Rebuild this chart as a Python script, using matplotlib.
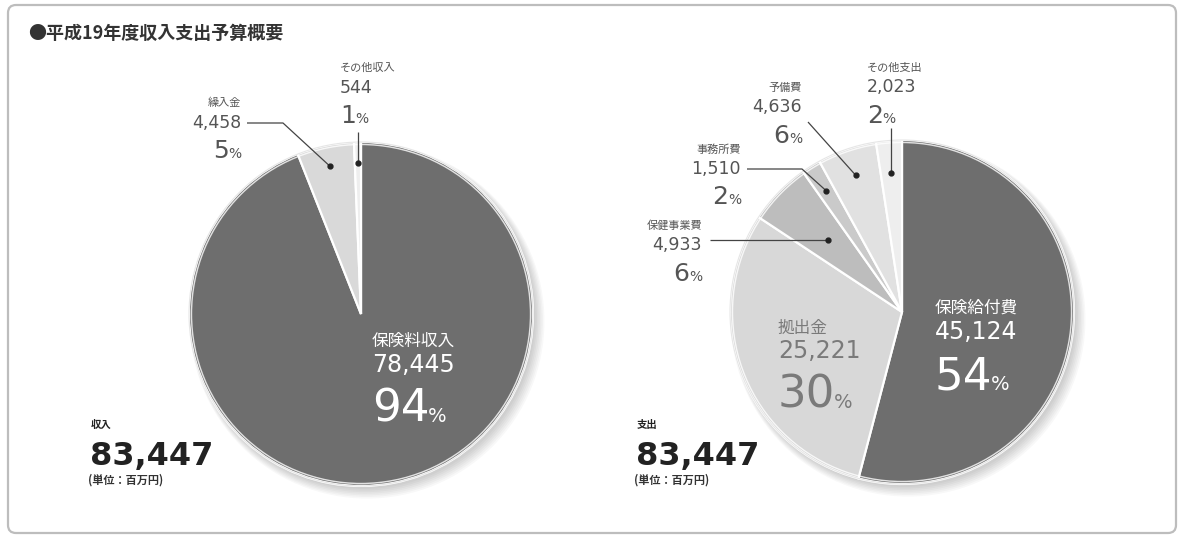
import matplotlib
matplotlib.use("Agg")
import matplotlib.pyplot as plt
import numpy as np
from matplotlib.patches import Circle, FancyBboxPatch

plt.rcParams['font.family'] = ['Noto Sans CJK JP', 'DejaVu Sans']
NUM_FONT = ['DejaVu Sans']

# ---------------- data ----------------
title = '●平成19年度収入支出予算概要'
income_title = '収入'
expense_title = '支出'
income_total = '83,447'
expense_total = '83,447'
unit_label = '(単位：百万円)'

income_labels = ['保険料収入', '繰入金', 'その他収入']
income_values = [78445, 4458, 544]
income_pct = [94, 5, 1]

expense_labels = ['保険給付費', '拠出金', '保健事業費', '事務所費', '予備費', 'その他支出']
expense_values = [45124, 25221, 4933, 1510, 4636, 2023]
expense_pct = [54, 30, 6, 2, 6, 2]

# ---------------- style ----------------
income_colors = ['#6e6e6e', '#d9d9d9', '#eeeeee']
expense_colors = ['#6e6e6e', '#d8d8d8', '#bdbdbd', '#cacaca', '#e1e1e1', '#eeeeee']

W, H = 1178, 535
fig = plt.figure(figsize=(W / 100, H / 100), dpi=100)
ax = fig.add_axes([0, 0, 1, 1])


def Y(y):
    return H - y


frame = FancyBboxPatch((8, Y(533)), 1168, 528, boxstyle='round,pad=0,rounding_size=8',
                       fc='white', ec='#bdbdbd', lw=1.6, zorder=0)
ax.add_patch(frame)

ax.text(28, Y(33), title, fontsize=13, fontweight='bold', color='#333333',
        ha='left', va='center')


def draw_pie(cx, cy, r, values, colors):
    for k in range(7):
        ax.add_patch(Circle((cx + 2.5 + k * 0.6, Y(cy) - 3 - k * 0.7), r + k * 0.9,
                            fc='black', ec='none', alpha=0.028, zorder=1))
    wedges, _ = ax.pie(values, colors=colors, startangle=90, counterclock=False,
                       center=(cx, Y(cy)), radius=r, frame=True,
                       wedgeprops=dict(ec='white', lw=1.6))
    for w in wedges:
        w.set_zorder(2)
    ax.add_patch(Circle((cx, Y(cy)), r - 2.5, fc='none', ec='white', lw=1.0, alpha=0.8, zorder=3))
    ax.add_patch(Circle((cx, Y(cy)), r, fc='none', ec='#e6e6e6', lw=0.8, zorder=3))
    return wedges


def wedge_point(cx, cy, r, values, idx, frac):
    total = float(sum(values))
    cum = sum(values[:idx]) + values[idx] / 2.0
    ang = np.deg2rad(90 - 360 * cum / total)
    return cx + frac * r * np.cos(ang), Y(cy) + frac * r * np.sin(ang)


L_CX, L_CY, R_CX, R_CY, RAD = 361, 314, 902, 312, 172
draw_pie(L_CX, L_CY, RAD, income_values, income_colors)
draw_pie(R_CX, R_CY, RAD, expense_values, expense_colors)
ax.set_xlim(0, W)
ax.set_ylim(0, H)
ax.set_aspect('equal')
ax.axis('off')

fig.canvas.draw()
renderer = fig.canvas.get_renderer()


def pct_text(x, y_base, num, nsize, psize, color, ha='left'):
    gap = -0.04 * nsize
    if ha == 'left':
        t = ax.text(x, Y(y_base), str(num), fontsize=nsize, color=color, family=NUM_FONT,
                    ha='left', va='baseline', zorder=5)
        bb = t.get_window_extent(renderer)
        ax.text(bb.x1 + gap, Y(y_base), '%', fontsize=psize, color=color, family=NUM_FONT,
                ha='left', va='baseline', zorder=5)
    else:
        p = ax.text(x, Y(y_base), '%', fontsize=psize, color=color, family=NUM_FONT,
                    ha='right', va='baseline', zorder=5)
        bb = p.get_window_extent(renderer)
        ax.text(bb.x0 - gap, Y(y_base), str(num), fontsize=nsize, color=color, family=NUM_FONT,
                ha='right', va='baseline', zorder=5)


def fmt(v):
    return f'{v:,}'


def small_label(x, name_y, val_y, pct_base, name, value, pct, ha):
    c = '#555555'
    ax.text(x, Y(name_y), name, fontsize=8, color=c, ha=ha, va='center', zorder=5)
    ax.text(x, Y(val_y), fmt(value), fontsize=12.5, color=c, family=NUM_FONT,
            ha=ha, va='center', zorder=5)
    pct_text(x, pct_base, pct, 18, 10, c, ha=ha)


def leader(points, dot):
    xs = [p[0] for p in points] + [dot[0]]
    ys = [Y(p[1]) for p in points] + [dot[1]]
    ax.plot(xs, ys, color='#444444', lw=0.9, zorder=6, solid_capstyle='butt')
    ax.plot([dot[0]], [dot[1]], 'o', color='#222222', ms=3.5, zorder=7)


# ---- income outside labels
small_label(241, 103, 123, 158, income_labels[1], income_values[1], income_pct[1], 'right')
leader([(247, 123), (283, 123)], wedge_point(L_CX, L_CY, RAD, income_values, 1, 0.88))
small_label(340, 68, 88, 123, income_labels[2], income_values[2], income_pct[2], 'left')
d = wedge_point(L_CX, L_CY, RAD, income_values, 2, 0.88)
leader([(d[0], 132)], d)

# ---- income main label (inside)
ax.text(372, Y(341), income_labels[0], fontsize=12, color='white', ha='left', va='center', zorder=5)
ax.text(372, Y(365), fmt(income_values[0]), fontsize=17, color='white', family=NUM_FONT,
        ha='left', va='center', zorder=5)
pct_text(372, 422, income_pct[0], 32.5, 14, 'white', ha='left')

# ---- expense outside labels
small_label(867, 68, 87, 123, expense_labels[5], expense_values[5], expense_pct[5], 'left')
d = wedge_point(R_CX, R_CY, RAD, expense_values, 5, 0.81)
leader([(d[0], 128)], d)

small_label(802, 88, 107, 143, expense_labels[4], expense_values[4], expense_pct[4], 'right')
leader([(808, 122)], wedge_point(R_CX, R_CY, RAD, expense_values, 4, 0.84))

small_label(741, 150, 169, 204, expense_labels[3], expense_values[3], expense_pct[3], 'right')
leader([(747, 169), (802, 169)], wedge_point(R_CX, R_CY, RAD, expense_values, 3, 0.83))

small_label(702, 226, 245, 281, expense_labels[2], expense_values[2], expense_pct[2], 'right')
d = wedge_point(R_CX, R_CY, RAD, expense_values, 2, 0.60)
leader([(710, Y(d[1]))], d)

# ---- expense inside labels
ax.text(935, Y(308), expense_labels[0], fontsize=12, color='white', ha='left', va='center', zorder=5)
ax.text(935, Y(332), fmt(expense_values[0]), fontsize=17, color='white', family=NUM_FONT,
        ha='left', va='center', zorder=5)
pct_text(935, 390, expense_pct[0], 32.5, 14, 'white', ha='left')

gc = '#7a7a7a'
ax.text(778, Y(328), expense_labels[1], fontsize=12, color=gc, ha='left', va='center', zorder=5)
ax.text(778, Y(351), fmt(expense_values[1]), fontsize=17, color=gc, family=NUM_FONT,
        ha='left', va='center', zorder=5)
pct_text(778, 408, expense_pct[1], 32.5, 14, gc, ha='left')

# ---- totals
for x0, ttl, tot in [(91, income_title, income_total), (637, expense_title, expense_total)]:
    ax.text(x0, Y(425), ttl, fontsize=7.5, fontweight='bold', color='#222222', ha='left', va='center', zorder=5)
    ax.text(x0 - 1, Y(465), tot, fontsize=23, fontweight='bold', color='#222222', family=NUM_FONT,
            ha='left', va='baseline', zorder=5)
    ax.text(x0 - 3, Y(480), unit_label, fontsize=8, fontweight='bold', color='#333333',
            ha='left', va='center', zorder=5)

fig.savefig('out.png', dpi=100)
